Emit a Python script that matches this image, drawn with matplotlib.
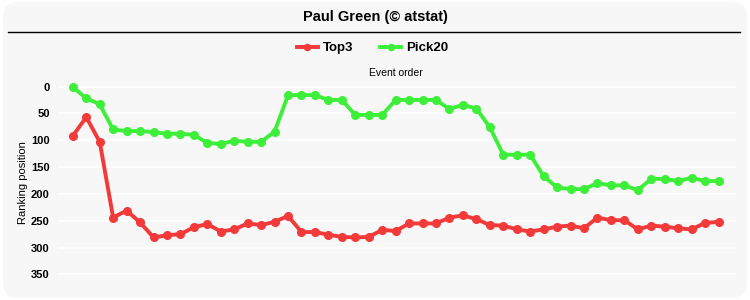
import matplotlib.pyplot as plt
from matplotlib.patches import FancyBboxPatch
from matplotlib.lines import Line2D

# ranking position per event (lower = better)
top3 = [92, 57, 103, 244, 231, 253, 281, 277, 275, 262, 256, 270, 266, 255, 258, 252, 241,
        271, 271, 276, 280, 281, 280, 267, 269, 255, 255, 255, 244, 240, 247, 258, 259, 266,
        270, 266, 261, 259, 264, 244, 249, 249, 266, 259, 261, 264, 266, 254, 252]
pick20 = [1, 22, 33, 80, 83, 83, 85, 88, 88, 90, 105, 107, 101, 103, 103, 84, 16, 16, 16,
          25, 25, 53, 53, 53, 25, 25, 25, 25, 42, 34, 41, 76, 127, 127, 127, 167, 188, 191,
          191, 180, 184, 184, 193, 172, 172, 176, 170, 176, 176]
yticks = [0, 50, 100, 150, 200, 250, 300, 350]

red = "#f23a3a"
green = "#3eef3a"
bg = "#f7f7f7"

plt.rcParams['font.family'] = ['Liberation Sans', 'DejaVu Sans']

fig = plt.figure(figsize=(7.5, 3), dpi=100)
fig.patch.set_facecolor("white")
fig.patches.append(FancyBboxPatch((0.004, 0.007), 0.992, 0.986, boxstyle="round,pad=0,rounding_size=0.02",
                                  transform=fig.transFigure, facecolor=bg, edgecolor="none",
                                  mutation_aspect=2.5, zorder=-10))

fig.text(0.5, 1 - 17 / 300, "Paul Green (© atstat)", ha="center", va="center",
         fontsize=10.5, fontweight="bold")
fig.add_artist(Line2D([8 / 750, 740 / 750], [1 - 32 / 300, 1 - 32 / 300],
                      transform=fig.transFigure, color="black", lw=1))

ax = fig.add_axes([58 / 750, 0.05, 678 / 750, 0.6833])
ax.set_facecolor(bg)
x = list(range(len(top3)))
ax.plot(x, top3, color=red, lw=2.8, marker="o", ms=5.5, label="Top3")
ax.plot(x, pick20, color=green, lw=2.8, marker="o", ms=5.5, label="Pick20")

ax.set_xlim(-1.1, 49.3)
ax.set_ylim(369.6, -12.1)
ax.set_yticks(yticks)
ax.set_yticklabels([str(v) for v in yticks], fontweight="bold", fontsize=8)
ax.set_xticks([])
ax.tick_params(axis="y", length=0, pad=6)
ax.grid(axis="y", color="white", lw=1.2)
ax.set_axisbelow(True)
for s in ax.spines.values():
    s.set_visible(False)
ax.set_ylabel("Ranking position", fontsize=8, labelpad=2)

fig.text(396 / 750, 1 - 73 / 300, "Event order", ha="center", va="center", fontsize=7.5)

fig.legend(loc="center", bbox_to_anchor=(0.497, 1 - 48 / 300), ncol=2, frameon=False,
           prop={"weight": "bold", "size": 9.5}, handlelength=1.6, columnspacing=2,
           handletextpad=0.4, markerscale=0.8)

fig.savefig("out.png", dpi=100, facecolor="white")
